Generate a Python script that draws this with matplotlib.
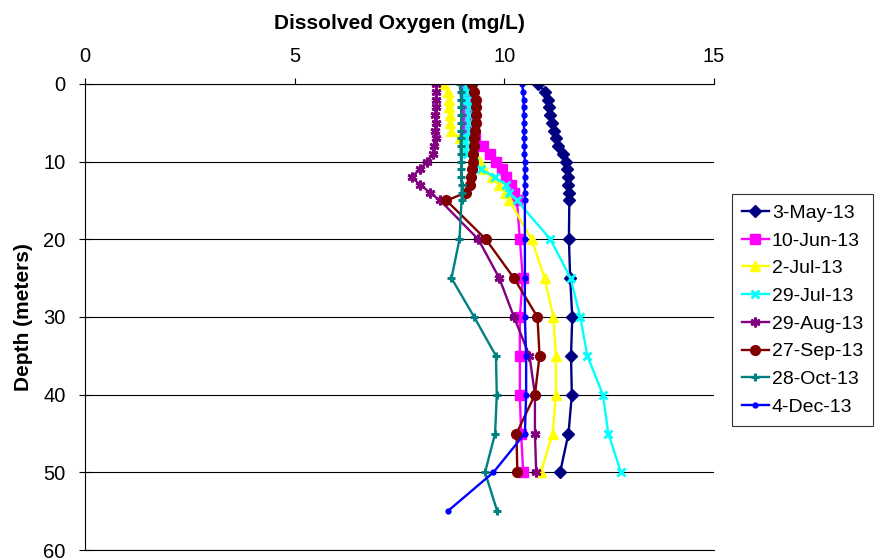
import matplotlib
matplotlib.use("Agg")
import matplotlib.pyplot as plt

plt.rcParams['font.family'] = ['Liberation Sans', 'DejaVu Sans']

depth = [0, 1, 2, 3, 4, 5, 6, 7, 8, 9, 10, 11, 12, 13, 14, 15, 20, 25, 30, 35, 40, 45, 50]
depth_ext = depth + [55]

may03 = [10.80, 10.98, 11.03, 11.06, 11.10, 11.14, 11.18, 11.24, 11.29, 11.40, 11.46, 11.49,
         11.51, 11.52, 11.54, 11.55, 11.54, 11.57, 11.62, 11.59, 11.61, 11.53, 11.33]
jun10 = [9.03, 9.07, 9.08, 9.08, 9.08, 9.08, 9.10, 9.30, 9.48, 9.65, 9.80, 9.95,
         10.05, 10.15, 10.22, 10.30, 10.37, 10.44, 10.37, 10.37, 10.37, 10.40, 10.45]
jul02 = [8.55, 8.65, 8.68, 8.68, 8.70, 8.70, 8.72, 8.95, 9.10, 9.30, 9.42, 9.52,
         9.70, 9.88, 10.02, 10.12, 10.65, 10.96, 11.17, 11.23, 11.23, 11.15, 10.87]
jul29 = [9.10, 9.12, 9.12, 9.15, 9.15, 9.15, 9.15, 9.12, 9.10, 9.12, 9.28, 9.45,
         9.78, 10.05, 10.12, 10.30, 11.10, 11.58, 11.81, 11.98, 12.35, 12.48, 12.78]
aug29 = [8.37, 8.38, 8.36, 8.37, 8.35, 8.36, 8.35, 8.36, 8.33, 8.30, 8.16, 7.98,
         7.79, 8.00, 8.23, 8.47, 9.38, 9.88, 10.23, 10.60, 10.73, 10.73, 10.76]
sep27 = [9.22, 9.28, 9.32, 9.33, 9.33, 9.32, 9.30, 9.28, 9.27, 9.25, 9.25, 9.22,
         9.20, 9.17, 9.08, 8.62, 9.56, 10.23, 10.79, 10.84, 10.73, 10.29, 10.31]
oct28 = [8.94, 8.96, 8.97, 8.97, 8.97, 8.97, 8.97, 8.96, 8.96, 8.96, 8.97, 8.97,
         8.97, 8.98, 8.98, 8.98, 8.93, 8.74, 9.28, 9.80, 9.82, 9.78, 9.54, 9.83]
dec04 = [10.42, 10.45, 10.46, 10.46, 10.47, 10.47, 10.47, 10.47, 10.48, 10.48, 10.49, 10.49,
         10.49, 10.49, 10.49, 10.49, 10.49, 10.49, 10.49, 10.52, 10.52, 10.49, 9.74, 8.65]

labels = ['3-May-13', '10-Jun-13', '2-Jul-13', '29-Jul-13', '29-Aug-13',
          '27-Sep-13', '28-Oct-13', '4-Dec-13']
x_ticks = [0, 5, 10, 15]
y_ticks = [0, 10, 20, 30, 40, 50, 60]

fig = plt.figure(figsize=(8.85, 5.6), dpi=100)
ax = fig.add_axes([85/885, 1-550/560, (714-85)/885, (550-84)/560])

styles = [
    (may03, depth, '#000080', dict(marker='D', ms=6)),
    (jun10, depth, '#FF00FF', dict(marker='s', ms=6.5)),
    (jul02, depth, '#FFFF00', dict(marker='^', ms=7.5)),
    (jul29, depth, '#00FFFF', dict(marker='x', ms=6, mew=2)),
    (aug29, depth, '#800080', dict(marker=(6, 2, 0), ms=7, mew=2)),
    (sep27, depth, '#800000', dict(marker='o', ms=7)),
    (oct28, depth_ext, '#008080', dict(marker='+', ms=6, mew=2.2)),
    (dec04, depth_ext, '#0000FF', dict(marker='o', ms=3.5)),
]
for (vals, d, col, mk), lab in zip(styles, labels):
    ax.plot(vals, d, color=col, lw=1.7, mfc=col, mec=col, label=lab, **mk)

ax.set_xlim(0, 15)
ax.set_ylim(60, 0)
ax.set_xticks(x_ticks)
ax.set_yticks(y_ticks)
ax.xaxis.tick_top()
ax.xaxis.set_label_position('top')
ax.tick_params(axis='x', direction='out', length=4, labelsize=14.5, pad=9, width=0.8)
ax.tick_params(axis='y', direction='inout', length=8, labelsize=14.5, pad=10, width=0.8)
ax.set_xlabel('Dissolved Oxygen (mg/L)', fontsize=15, fontweight='bold', labelpad=13)
ax.set_ylabel('Depth (meters)', fontsize=15, fontweight='bold', labelpad=7)

ax.spines['right'].set_visible(False)
for s in ['left', 'top', 'bottom']:
    ax.spines[s].set_color('black')
    ax.spines[s].set_linewidth(0.8)
ax.yaxis.grid(True, color='black', lw=0.8)
ax.set_axisbelow(True)

leg = ax.legend(loc='center left', bbox_to_anchor=(732/885, 1-310/560),
                bbox_transform=fig.transFigure, borderaxespad=0, fontsize=14,
                frameon=True, fancybox=False, edgecolor='black', handlelength=1.4,
                labelspacing=0.52, handletextpad=0.15, borderpad=0.5)
leg.get_frame().set_linewidth(0.8)

fig.savefig('out.png', dpi=100)
